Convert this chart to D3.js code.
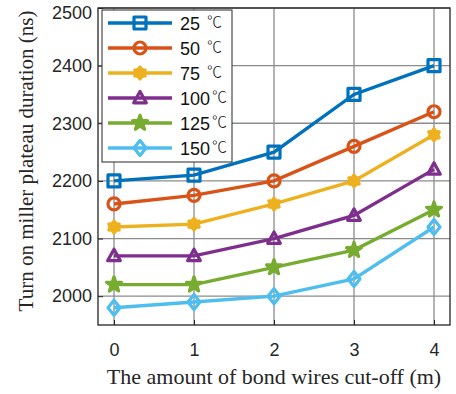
<!DOCTYPE html>
<html>
<head>
<meta charset="utf-8">
<script src="https://cdn.jsdelivr.net/npm/d3@7"></script>
<style>
  body { margin: 0; background: #fff; }
  svg { display: block; }
</style>
</head>
<body>
<div id="chart"></div>
<script>
var width = 456,
    height = 394;

// data
var cutoff = [0, 1, 2, 3, 4];
var tempNums = ['25 ', '50 ', '75 ', '100', '125', '150'];
var unit = '℃';
var t25  = [2200, 2210, 2250, 2350, 2400];
var t50  = [2160, 2175, 2200, 2260, 2320];
var t75  = [2120, 2125, 2160, 2200, 2280];
var t100 = [2070, 2070, 2100, 2140, 2220];
var t125 = [2020, 2020, 2050, 2080, 2150];
var t150 = [1980, 1990, 2000, 2030, 2120];
var yTicks = [2000, 2100, 2200, 2300, 2400, 2500];

var colors = ['#0072BD', '#D95319', '#EDB120', '#7E2F8E', '#77AC30', '#4DBEEE'];
var shapes = ['square', 'circle', 'hexagram', 'triangle', 'star', 'diamond'];

var series = [t25, t50, t75, t100, t125, t150].map(function(v, i){
  return { name: tempNums[i], values: v, color: colors[i], shape: shapes[i] };
});

// plot box (window.top is read-only, so other names)
var pL = 98, pR = 450, pT = 8, pB = 325;

var x = d3.scaleLinear().domain([-0.2, 4.2]).range([pL, pR]);
var y = d3.scaleLinear().domain([1950, 2500]).range([pB, pT]);

var svg = d3.select('#chart').append('svg')
  .attr('width', width)
  .attr('height', height);

// grid
svg.append('g').selectAll('line')
  .data(cutoff).enter().append('line')
  .attr('x1', function(d){ return x(d); })
  .attr('x2', function(d){ return x(d); })
  .attr('y1', pT).attr('y2', pB)
  .attr('stroke', '#8c8c8c').attr('stroke-width', 1.3);

svg.append('g').selectAll('line')
  .data(yTicks).enter().append('line')
  .attr('x1', pL).attr('x2', pR)
  .attr('y1', function(d){ return y(d); })
  .attr('y2', function(d){ return y(d); })
  .attr('stroke', '#8c8c8c').attr('stroke-width', 1.3);

// axes
var xAxis = d3.axisBottom(x).tickValues(cutoff).tickFormat(d3.format('d'))
  .tickSizeInner(-5).tickSizeOuter(0).tickPadding(18);
var yAxis = d3.axisLeft(y).tickValues(yTicks).tickFormat(d3.format('d'))
  .tickSizeInner(-5).tickSizeOuter(0).tickPadding(6);

var gx = svg.append('g').attr('transform', 'translate(0,' + pB + ')').call(xAxis);
var gy = svg.append('g').attr('transform', 'translate(' + pL + ',0)').call(yAxis);

[gx, gy].forEach(function(g){
  g.select('.domain').remove();
  g.selectAll('line').attr('stroke', '#262626').attr('stroke-width', 1);
  g.selectAll('text')
    .attr('fill', '#262626')
    .style('font-family', '"Liberation Sans", Arial, sans-serif')
    .style('font-size', '18px');
});
// top label sits a little lower so it is not clipped
gy.selectAll('.tick text').filter(function(d){ return d === 2500; }).attr('dy', '0.6em');

svg.append('rect')
  .attr('x', pL).attr('y', pT)
  .attr('width', pR - pL).attr('height', pB - pT)
  .attr('fill', 'none').attr('stroke', '#262626').attr('stroke-width', 1.3);

// symbol paths
function markerPath(shape, s){
  switch(shape){
    case 'square':
      return 'M' + (-s) + ',' + (-s) + 'H' + s + 'V' + s + 'H' + (-s) + 'Z';
    case 'circle':
      return d3.symbol().type(d3.symbolCircle).size(Math.PI * s * s)();
    case 'triangle':
      return 'M0,' + (-s * 1.1) + 'L' + (s * 1.05) + ',' + (s * 0.8) + 'L' + (-s * 1.05) + ',' + (s * 0.8) + 'Z';
    case 'diamond':
      return 'M0,' + (-s * 1.25) + 'L' + s + ',0L0,' + (s * 1.25) + 'L' + (-s) + ',0Z';
    case 'star':
      return d3.symbol().type(d3.symbolStar).size(s * s * 1.9)();
    case 'hexagram':
      var pts = [];
      for (var k = 0; k < 12; k++){
        var r = k % 2 === 0 ? s * 1.0 : s * 0.65;
        var a = Math.PI / 6 * k - Math.PI / 2;
        pts.push([r * Math.cos(a), r * Math.sin(a)]);
      }
      return 'M' + pts.map(function(p){ return p.join(','); }).join('L') + 'Z';
  }
}

function drawMarker(g, shape, color){
  var filled = (shape === 'star' || shape === 'hexagram');
  g.append('path')
    .attr('d', markerPath(shape, 6))
    .attr('fill', filled ? color : 'none')
    .attr('stroke', color)
    .attr('stroke-width', 3.2)
    .attr('stroke-linejoin', 'round');
}

var line = d3.line()
  .x(function(d, i){ return x(cutoff[i]); })
  .y(function(d){ return y(d); });

series.forEach(function(s){
  svg.append('path')
    .datum(s.values)
    .attr('d', line)
    .attr('fill', 'none')
    .attr('stroke', s.color)
    .attr('stroke-width', 3.4);

  s.values.forEach(function(v, i){
    var g = svg.append('g').attr('transform', 'translate(' + x(cutoff[i]) + ',' + y(v) + ')');
    drawMarker(g, s.shape, s.color);
  });
});

// legend
var leg = svg.append('g').attr('transform', 'translate(102,10)');
leg.append('rect')
  .attr('width', 130).attr('height', 152)
  .attr('fill', '#fff').attr('stroke', '#262626').attr('stroke-width', 1);

series.forEach(function(s, i){
  var cy = 13 + i * 25;
  var row = leg.append('g').attr('transform', 'translate(0,' + cy + ')');
  row.append('line')
    .attr('x1', 6).attr('x2', 70)
    .attr('stroke', s.color).attr('stroke-width', 3.4);
  drawMarker(row.append('g').attr('transform', 'translate(38,0)'), s.shape, s.color);
  var t = row.append('text')
    .attr('x', 78).attr('y', 7)
    .attr('fill', '#111')
    .style('font-family', '"Liberation Sans", Arial, sans-serif')
    .style('font-size', '18px');
  t.append('tspan').attr('xml:space', 'preserve').text(s.name);
  t.append('tspan')
    .attr('dx', 2).attr('dy', -3)
    .style('font-family', '"Noto Sans CJK SC", sans-serif')
    .style('font-weight', 300)
    .style('font-size', '15px')
    .text(unit);
});

// axis labels
svg.append('text')
  .attr('x', 274).attr('y', 384)
  .attr('text-anchor', 'middle')
  .attr('fill', '#262626')
  .style('font-family', '"Liberation Serif", "Times New Roman", serif')
  .style('font-size', '22px')
  .text('The amount of bond wires cut-off (m)');

svg.append('text')
  .attr('transform', 'translate(33,161) rotate(-90)')
  .attr('text-anchor', 'middle')
  .attr('fill', '#262626')
  .style('font-family', '"Liberation Serif", "Times New Roman", serif')
  .style('font-size', '21px')
  .text('Turn on miller plateau duration (ns)');
</script>
</body>
</html>
